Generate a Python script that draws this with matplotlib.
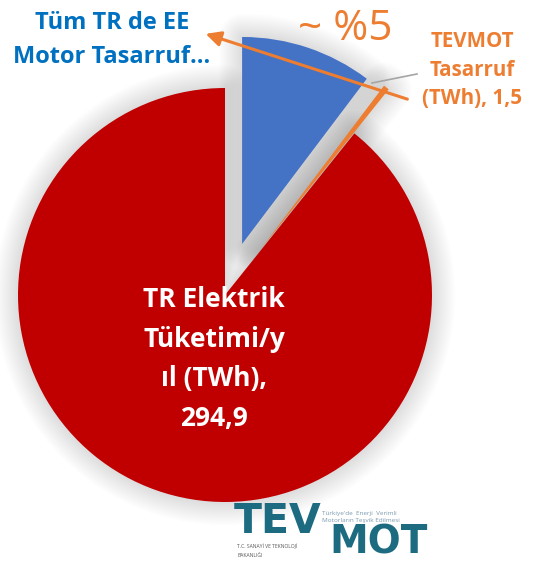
import matplotlib
matplotlib.use('Agg')
import matplotlib.pyplot as plt

# ========== veriler ==========
dilim_adlari = ["TR Elektrik Tüketimi/yıl (TWh)", "TEVMOT Tasarruf (TWh)", "Tüm TR de EE Motor Tasarruf"]
dilim_degerleri = [294.9, 1.5, 34.0]
dilim_renkleri = ["#C00000", "#ED7D31", "#4472C4"]

plt.rcParams["font.family"] = ["Open Sans", "DejaVu Sans"]

W, H = 533, 567
fig = plt.figure(figsize=(W / 100, H / 100), dpi=100)
ax = fig.add_axes([0, 0, 1, 1])

merkez = (225, H - 295)
yaricap = 207
patlatma = [0, 0.27 * yaricap, 0.26 * yaricap]  # pie'da explode veri biriminde

# yumusak golge: ust uste binen yari saydam kenar cizgileri
for lw in range(3, 36, 3):
    ax.pie(dilim_degerleri, explode=patlatma, startangle=90, counterclock=True,
           center=merkez, radius=yaricap, frame=True,
           wedgeprops=dict(facecolor="none", edgecolor="black", linewidth=lw,
                           alpha=0.013, joinstyle="round"))

wedges, _ = ax.pie(dilim_degerleri, explode=patlatma, startangle=90, counterclock=True,
                   colors=dilim_renkleri, center=merkez, radius=yaricap, frame=True,
                   wedgeprops=dict(linewidth=0))
ax.set_xlim(0, W)
ax.set_ylim(0, H)
ax.set_aspect("equal")
ax.axis("off")

# etiketler
ax.text(214, H - 359, "TR Elektrik\nTüketimi/y\nıl (TWh),\n294,9", color="white",
        fontsize=19, fontweight="bold", ha="center", va="center", linespacing=1.6)
ax.text(112, H - 40, "Tüm TR de EE\nMotor Tasarruf...", color="#0070C0",
        fontsize=17, fontweight="bold", ha="center", va="center", linespacing=1.55)
ax.text(472, H - 70, "TEVMOT\nTasarruf\n(TWh), 1,5", color="#ED7D31",
        fontsize=14.8, fontweight="bold", ha="center", va="center", linespacing=1.45)
ax.text(345, H - 29, "~ %5", color="#ED7D31", fontsize=30.5, ha="center", va="center")

# ok ve kilavuz cizgi
ax.annotate("", xy=(203, H - 33), xytext=(410, H - 100),
            arrowprops=dict(arrowstyle="-|>,head_length=0.9,head_width=0.45",
                            color="#ED7D31", lw=2.2))
ax.plot([372, 417], [H - 83, H - 74], color="#A5A5A5", lw=1.2)

# logo (yaklasik)
ax.text(234, H - 522, "TEV", color="#1D6B80", fontsize=29.5, fontweight="bold",
        family="DejaVu Sans", ha="left", va="center")
ax.text(329, H - 543, "MOT", color="#1D6B80", fontsize=28, fontweight="bold",
        family="DejaVu Sans", ha="left", va="center")
ax.text(322, H - 517, "Türkiye'de  Enerji  Verimli\nMotorların Teşvik Edilmesi",
        color="#7A9AB0", fontsize=4.6, ha="left", va="center", linespacing=1.3)
ax.text(237, H - 551, "T.C. SANAYİ VE TEKNOLOJİ\nBAKANLIĞI", color="#555555",
        fontsize=3.6, ha="left", va="center", linespacing=1.8)

plt.savefig("out.png", dpi=100)
plt.close()
